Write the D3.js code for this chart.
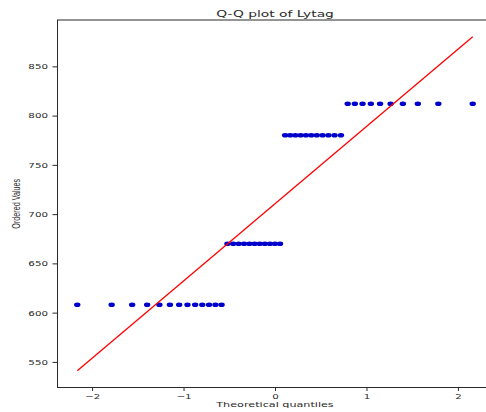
<!DOCTYPE html>
<html>
<head>
<meta charset="utf-8">
<script src="https://cdn.jsdelivr.net/npm/d3@7"></script>
<style>
     html, body { margin: 0; padding: 0; background: #fff; }
     svg { display: block; }
</style>
</head>
<body>
<div id="chart"></div>
<script>
// theoretical quantiles (x), one per point
const theoQuantiles = [
     -2.162, -1.786, -1.562, -1.398, -1.264, -1.149, -1.048, -0.957, -0.873, -0.795, -0.721, -0.651, -0.584,
     -0.520, -0.457, -0.397, -0.338, -0.280, -0.223, -0.167, -0.111, -0.055, 0.000, 0.055,
     0.111, 0.167, 0.223, 0.280, 0.338, 0.397, 0.457, 0.520, 0.584, 0.651, 0.721,
     0.795, 0.873, 0.957, 1.048, 1.149, 1.264, 1.398, 1.562, 1.786, 2.162
];
// ordered sample values (y)
const orderedValues = [
     608, 608, 608, 608, 608, 608, 608, 608, 608, 608, 608, 608, 608,
     670, 670, 670, 670, 670, 670, 670, 670, 670, 670, 670,
     780, 780, 780, 780, 780, 780, 780, 780, 780, 780, 780,
     812, 812, 812, 812, 812, 812, 812, 812, 812, 812
];
const xTicks = [-2, -1, 0, 1, 2];
const yTicks = [550, 600, 650, 700, 750, 800, 850];

const W = 486, H = 412;
const M = { top: 20, right: -6.5, bottom: 24.5, left: 57.5 };
const SQ = 0.72;   // reference is squashed vertically
const FONT = "'DejaVu Sans', sans-serif";
const INK = '#2a2a2a';

// ── least-squares fit line (as probplot does) ─────────────
const mx = d3.mean(theoQuantiles), my = d3.mean(orderedValues);
const sxy = d3.sum(theoQuantiles, (x, i) => (x - mx) * (orderedValues[i] - my));
const sxx = d3.sum(theoQuantiles, x => (x - mx) * (x - mx));
const slope = sxy / sxx, icpt = my - slope * mx;
const xExt = d3.extent(theoQuantiles);
const fitLine = xExt.map(x => ({ x, y: slope * x + icpt }));

// 5% margins like matplotlib autoscale
function pad(ext) { const r = ext[1] - ext[0]; return [ext[0] - r * 0.05, ext[1] + r * 0.05]; }
const yExt = d3.extent(orderedValues.concat(fitLine.map(d => d.y)));

const x = d3.scaleLinear().domain(pad(xExt)).range([M.left, W - M.right]);
const y = d3.scaleLinear().domain(pad(yExt)).range([H - M.bottom, M.top]);

const svg = d3.select('#chart').append('svg')
     .attr('width', W).attr('height', H)
     .attr('viewBox', `0 0 ${W} ${H}`);

// ── points + fit line ─────────────────────────────────────
svg.append('g').selectAll('ellipse')
     .data(theoQuantiles)
     .join('ellipse')
     .attr('cx', d => x(d))
     .attr('cy', (d, i) => y(orderedValues[i]))
     .attr('rx', 3.2).attr('ry', 2.3)
     .attr('fill', '#0000cc');

svg.append('path')
     .datum(fitLine)
     .attr('d', d3.line().x(d => x(d.x)).y(d => y(d.y)))
     .attr('fill', 'none').attr('stroke', '#ff0000').attr('stroke-width', 1.3);

// ── axes ──────────────────────────────────────────────────
const gx = svg.append('g')
     .attr('transform', `translate(0,${H - M.bottom})`)
     .call(d3.axisBottom(x).tickValues(xTicks).tickSize(3.5).tickSizeOuter(0).tickFormat(d3.format('d')));
gx.selectAll('text')
     .attr('y', null).attr('dy', null)
     .attr('transform', `translate(0,11.5) scale(1,${SQ})`);

const gy = svg.append('g')
     .attr('transform', `translate(${M.left},0)`)
     .call(d3.axisLeft(y).tickValues(yTicks).tickSize(5).tickSizeOuter(0));
gy.selectAll('text')
     .attr('x', -9.5)
     .attr('transform', `scale(1,${SQ})`);

[gx, gy].forEach(g => {
     g.select('.domain').remove();
     g.selectAll('line').attr('stroke', INK);
     g.selectAll('text').attr('fill', INK).attr('font-family', FONT).attr('font-size', 10.3);
});

// spines
svg.append('rect')
     .attr('x', M.left).attr('y', M.top)
     .attr('width', W - M.right - M.left).attr('height', H - M.bottom - M.top)
     .attr('fill', 'none').attr('stroke', INK).attr('stroke-width', 1);

// ── titles ────────────────────────────────────────────────
const cx = (M.left + W - M.right) / 2;
svg.append('text')
     .attr('transform', `translate(${cx},17) scale(1,0.66)`)
     .attr('text-anchor', 'middle').attr('fill', INK)
     .attr('font-family', FONT).attr('font-size', 13.8)
     .text('Q-Q plot of Lytag');

svg.append('text')
     .attr('transform', `translate(${cx},407) scale(1,0.66)`)
     .attr('text-anchor', 'middle').attr('fill', INK)
     .attr('font-family', FONT).attr('font-size', 11.2)
     .text('Theoretical quantiles');

svg.append('text')
     .attr('transform', `translate(19.5,${(M.top + H - M.bottom) / 2}) scale(1,${SQ}) rotate(-90)`)
     .attr('text-anchor', 'middle').attr('fill', INK)
     .attr('font-family', "'Liberation Sans', sans-serif").attr('font-size', 10)
     .text('Ordered Values');
</script>
</body>
</html>
